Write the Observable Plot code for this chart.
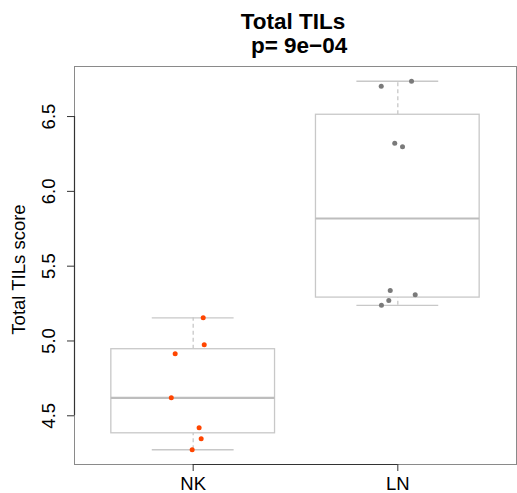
<!DOCTYPE html>
<html>
<head>
<meta charset="utf-8">
<script src="https://cdn.jsdelivr.net/npm/d3@7"></script>
<script src="https://cdn.jsdelivr.net/npm/@observablehq/plot@0.6"></script>
<style>
  html, body { margin: 0; padding: 0; background: #fff; }
  body { width: 517px; height: 493px; overflow: hidden; font-family: "Liberation Sans", Arial, sans-serif; }
  #title { position: relative; height: 60px; width: 517px; }
  #title span { position: absolute; transform: translateX(-50%); white-space: pre; font-weight: bold; font-size: 22.5px; color: #000; line-height: 24px; }
</style>
</head>
<body>
<div id="title"></div>
<div id="chart"></div>
<script>
// ---- data ----
const groups = ["NK", "LN"];
const nkScores = [5.155, 4.975, 4.915, 4.62, 4.42, 4.346, 4.273];
const lnScores = [6.736, 6.703, 6.321, 6.299, 5.338, 5.309, 5.271, 5.238];
const nkJitter = [0.049, 0.054, -0.088, -0.107, 0.029, 0.039, -0.005];
const lnJitter = [0.067, -0.081, -0.015, 0.023, -0.037, 0.085, -0.044, -0.080];
const groupColors = ["#FF4500", "#7a7a7a"];
const yTicks = [4.5, 5.0, 5.5, 6.0, 6.5];
const titleLines = ["Total TILs", " p= 9e\u221204"];
const yLabel = "Total TILs score";

// ---- derived tables ----
const scoresByGroup = [nkScores, lnScores];
const jitterByGroup = [nkJitter, lnJitter];

function fivenum(values) {
  const v = values.slice().sort((a, b) => a - b);
  const n = v.length;
  const n4 = Math.floor((n + 3) / 2) / 2;
  const idx = [1, n4, (n + 1) / 2, n + 1 - n4, n];
  return idx.map(d => 0.5 * (v[Math.floor(d) - 1] + v[Math.ceil(d) - 1]));
}

const stats = groups.map((g, i) => {
  const [min, q1, med, q3, max] = fivenum(scoresByGroup[i]);
  return { group: g, pos: i + 1, min, q1, med, q3, max };
});

const points = groups.flatMap((g, i) =>
  scoresByGroup[i].map((v, j) => ({ group: g, pos: i + 1, jit: jitterByGroup[i][j], score: v, color: groupColors[i] }))
);

// R-style axis ranges (4% expansion)
const xDomain = [0.5 - 0.04 * 2, 2.5 + 0.04 * 2];
const allScores = nkScores.concat(lnScores);
const yMin = d3.min(allScores), yMax = d3.max(allScores);
const yPad = 0.04 * (yMax - yMin);
const yDomain = [yMin - yPad, yMax + yPad];

// ---- title ----
const title = document.getElementById("title");
[[titleLines[0], 293, 10], [titleLines[1], 296, 34]].forEach(([t, x, y]) => {
  const s = document.createElement("span");
  s.textContent = t;
  s.style.left = x + "px";
  s.style.top = y + "px";
  title.appendChild(s);
});

const boxStroke = "#c8c8c8";
const fmt = d3.format(".1f");
const fs = 18.5;

const chart = Plot.plot({
  width: 517,
  height: 433,
  marginLeft: 74,
  marginRight: 1,
  marginTop: 6,
  marginBottom: 29,
  style: { fontFamily: "Liberation Sans, Arial, sans-serif", fontSize: fs + "px", background: "white", overflow: "visible" },
  x: { type: "linear", domain: xDomain, label: null },
  y: { type: "linear", domain: yDomain, label: null },
  marks: [
    Plot.frame({ stroke: "#8a8a8a", strokeWidth: 1 }),
    // whiskers (dashed)
    Plot.ruleX(stats, { x: "pos", y1: "q3", y2: "max", stroke: boxStroke, strokeWidth: 1.3, strokeDasharray: "4,3" }),
    Plot.ruleX(stats, { x: "pos", y1: "min", y2: "q1", stroke: boxStroke, strokeWidth: 1.3, strokeDasharray: "4,3" }),
    // whisker caps
    Plot.ruleY(stats, { y: "max", x1: d => d.pos - 0.2, x2: d => d.pos + 0.2, stroke: boxStroke, strokeWidth: 1.3 }),
    Plot.ruleY(stats, { y: "min", x1: d => d.pos - 0.2, x2: d => d.pos + 0.2, stroke: boxStroke, strokeWidth: 1.3 }),
    // boxes
    Plot.rect(stats, { x1: d => d.pos - 0.4, x2: d => d.pos + 0.4, y1: "q1", y2: "q3", fill: "white", stroke: boxStroke, strokeWidth: 1.3, inset: 0 }),
    // medians
    Plot.ruleY(stats, { y: "med", x1: d => d.pos - 0.4, x2: d => d.pos + 0.4, stroke: "#bdbdbd", strokeWidth: 2.2 }),
    // jittered points
    Plot.dot(points, { x: d => d.pos + d.jit, y: "score", r: 2.5, fill: "color", stroke: "none" }),
    // axis lines (between first and last tick, R style)
    Plot.ruleX([xDomain[0]], { y1: d3.min(yTicks), y2: d3.max(yTicks), stroke: "#333", strokeWidth: 1.2 }),
    Plot.ruleY([yDomain[0]], { x1: 1, x2: groups.length, stroke: "#333", strokeWidth: 1.2 }),
    // y ticks
    Plot.axisY({ ticks: yTicks, tickSize: 7, tickFormat: () => "", stroke: "#333", label: null }),
    Plot.text(yTicks, { y: d => d, text: d => fmt(d), frameAnchor: "left", textAnchor: "middle", lineAnchor: "middle", rotate: -90, dx: -25, fill: "#000", fontSize: fs }),
    // x axis
    Plot.axisX({ ticks: groups.map((g, i) => i + 1), tickFormat: d => groups[d - 1], tickSize: 7, tickPadding: 5, stroke: "#333", fill: "#000", fontSize: fs, label: null }),
    // y label
    Plot.text([yLabel], { text: d => d, frameAnchor: "left", textAnchor: "middle", lineAnchor: "middle", rotate: -90, dx: -55, dy: 4, fill: "#000", fontSize: fs })
  ]
});

document.getElementById("chart").appendChild(chart);
</script>
</body>
</html>
